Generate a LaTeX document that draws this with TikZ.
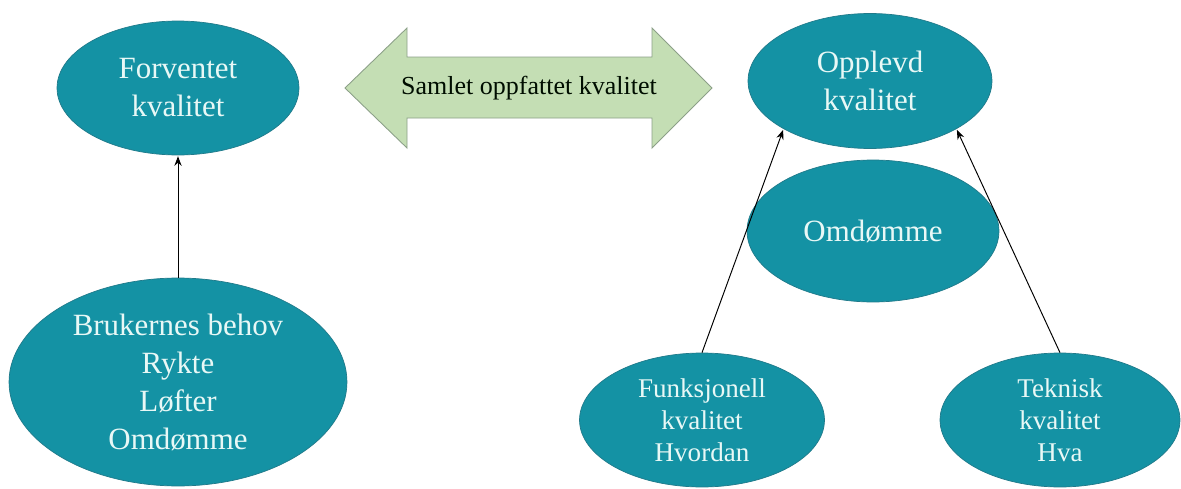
\documentclass[tikz,border=0pt]{standalone}
\usepackage{fontspec}
\setmainfont{Liberation Serif}
\usetikzlibrary{arrows.meta,positioning,shapes.geometric}
\definecolor{ovalfill}{RGB}{20,146,164}
\definecolor{ovalline}{RGB}{32,122,138}
\definecolor{ovaltext}{RGB}{232,248,246}
\definecolor{barfill}{RGB}{196,222,180}
\definecolor{barline}{RGB}{140,160,136}

\begin{document}
\begin{tikzpicture}[x=0.02cm, y=0.02cm, >=Stealth,
  oval/.style={ellipse, draw=ovalline, fill=ovalfill, text=ovaltext, align=center, inner sep=0pt,
    font=\fontsize{17.6}{21.6}\selectfont},
  smalloval/.style={oval, font=\fontsize{15.4}{18.2}\selectfont},
  link/.style={->, line width=0.55pt, shorten >=0.5pt}]
  \useasboundingbox (0,0) rectangle (1181,488);
  % venstre side
  \node[oval, minimum width=4.84cm, minimum height=2.68cm] (forv) at (178,400) {Forventet\\ kvalitet};
  \node[oval, minimum width=6.76cm, minimum height=4.16cm] (bruk) at (178,106) {Brukernes behov\\ Rykte\\ Løfter\\ Omdømme};
  % dobbelpil i midten
  \draw[fill=barfill, draw=barline, line width=0.5pt]
    (345,400) -- (407,460) -- (407,431) -- (652,431) -- (652,460) -- (712,400)
    -- (652,340) -- (652,370) -- (407,370) -- (407,340) -- cycle;
  \node[font=\fontsize{14.8}{17}\selectfont, text=black!95!green] (samlet) at (529,400) {Samlet oppfattet kvalitet};
  % høyre side
  \node[oval, minimum width=4.88cm, minimum height=2.7cm] (oppl) at (870,407) {Opplevd\\ kvalitet};
  \node[oval, minimum width=5.04cm, minimum height=2.84cm] (omd) at (873,257) {Omdømme};
  \node[smalloval, minimum width=4.9cm, minimum height=2.68cm] (funk) at (702,68) {Funksjonell\\ kvalitet\\ Hvordan};
  \node[smalloval, minimum width=4.8cm, minimum height=2.68cm] (tekn) at (1060,68) {Teknisk\\ kvalitet\\ Hva};
  \draw[link] (bruk.north) -- (forv.south);
  \draw[link] (funk.north) -- (oppl.south west);
  \draw[link] (tekn.north) -- (oppl.south east);
\end{tikzpicture}
\end{document}
